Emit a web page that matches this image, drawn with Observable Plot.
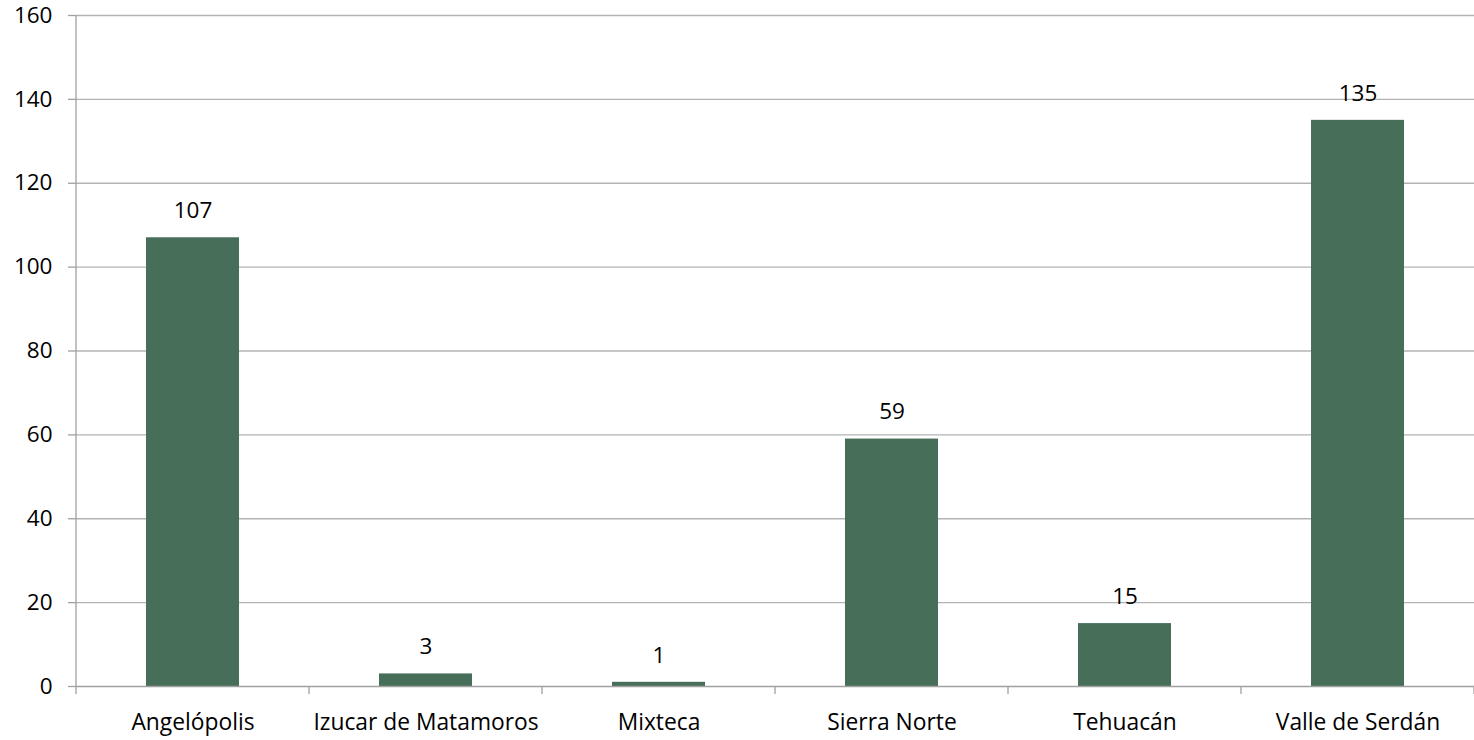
<!DOCTYPE html>
<html>
<head>
<meta charset="utf-8">
<script src="https://cdn.jsdelivr.net/npm/d3@7"></script>
<script src="https://cdn.jsdelivr.net/npm/@observablehq/plot@0.6"></script>
<style>
  html, body { margin: 0; padding: 0; background: #fff; }
  #chart svg { display: block; }
</style>
</head>
<body>
<div id="chart"></div>
<script>
const categories = ["Angelópolis", "Izucar de Matamoros", "Mixteca", "Sierra Norte", "Tehuacán", "Valle de Serdán"];
const values = [107, 3, 1, 59, 15, 135];
const yTicks = [0, 20, 40, 60, 80, 100, 120, 140, 160];

const data = categories.map((c, i) => ({category: c, value: values[i]}));

const W = 1474, H = 740;
const mL = 76, mR = 0, mT = 15, mB = 54;
const font = "'Open Sans', sans-serif";
const axisColor = "#a0a0a0";

const boundaryTicks = (index, scales, vals, dims) => {
  const g = d3.create("svg:g");
  const n = categories.length;
  const step = (dims.width - dims.marginLeft - dims.marginRight) / n;
  const y0 = scales.y(0);
  for (let i = 0; i <= n; i++) {
    const x = dims.marginLeft + i * step;
    g.append("line")
      .attr("x1", x).attr("x2", x)
      .attr("y1", y0).attr("y2", y0 + 8)
      .attr("stroke", axisColor).attr("stroke-width", 1.3);
  }
  return g.node();
};

const chart = Plot.plot({
  width: W,
  height: H,
  marginLeft: mL,
  marginRight: mR,
  marginTop: mT,
  marginBottom: mB,
  style: {fontFamily: font, fontSize: "20px", color: "#000", background: "#fff"},
  x: {domain: categories, paddingInner: 0.6, paddingOuter: 0.3, label: null},
  y: {domain: [0, 160], label: null},
  marks: [
    Plot.ruleY(yTicks.filter(t => t > 0), {stroke: "#b3b3b3", strokeWidth: 1.3, strokeOpacity: 1}),
    Plot.axisY({ticks: yTicks, tickSize: 8, tickPadding: 16, stroke: axisColor, strokeOpacity: 1, strokeWidth: 1.3, label: null, fontSize: 22.5, fill: "#000"}),
    Plot.axisX({tickSize: 0, tickPadding: 27, label: null, fontSize: 22.8, fill: "#000"}),
    Plot.barY(data, {x: "category", y: "value", fill: "#466e59"}),
    Plot.ruleY([0], {stroke: axisColor, strokeWidth: 1.3}),
    boundaryTicks,
    Plot.text(data, {x: "category", y: "value", text: d => String(d.value), dy: -27, fontSize: 22.5, fill: "#000"})
  ]
});

// left axis line
const svg = d3.select(chart);
svg.append("line")
  .attr("x1", mL).attr("x2", mL)
  .attr("y1", mT).attr("y2", H - mB)
  .attr("stroke", axisColor).attr("stroke-width", 1.3);

document.getElementById("chart").appendChild(chart);
</script>
</body>
</html>
